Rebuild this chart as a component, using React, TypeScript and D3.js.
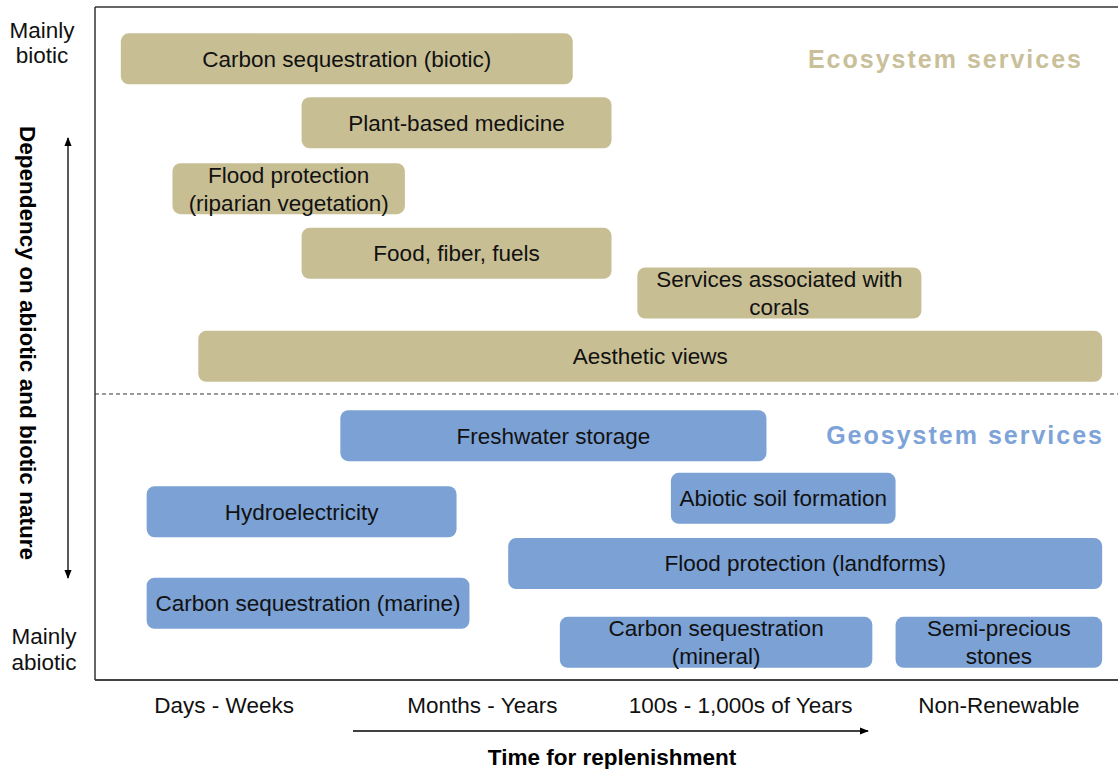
import React from "react";
import * as d3 from "d3";

// time-for-replenishment categories (x axis)
const timeCategories = ["Days - Weeks", "Months - Years", "100s - 1,000s of Years", "Non-Renewable"];

// each service: label lines, start/end on the time axis (category units), dependency level (0 abiotic .. 100 biotic)
const serviceLabels = [
  ["Carbon sequestration (biotic)"],
  ["Plant-based medicine"],
  ["Flood protection", "(riparian vegetation)"],
  ["Food, fiber, fuels"],
  ["Services associated with", "corals"],
  ["Aesthetic views"],
  ["Freshwater storage"],
  ["Hydroelectricity"],
  ["Abiotic soil formation"],
  ["Flood protection (landforms)"],
  ["Carbon sequestration (marine)"],
  ["Carbon sequestration", "(mineral)"],
  ["Semi-precious", "stones"],
];
const serviceStart = [0.1, 0.8, 0.3, 0.8, 2.1, 0.4, 0.95, 0.2, 2.23, 1.6, 0.2, 1.8, 3.1];
const serviceEnd = [1.85, 2.0, 1.2, 2.0, 3.2, 3.9, 2.6, 1.4, 3.1, 3.9, 1.45, 3.01, 3.9];
const serviceDependency = [92.3, 82.8, 73.0, 63.4, 57.5, 48.1, 36.3, 25.0, 27.0, 17.3, 11.4, 5.6, 5.6];
const serviceGroup = ["eco", "eco", "eco", "eco", "eco", "eco", "geo", "geo", "geo", "geo", "geo", "geo", "geo"];

const groupNames = ["Ecosystem services", "Geosystem services"];
const groupLabelLevel = [92.3, 36.3];
const dividerLevel = 42.5;

const W = 1118, H = 769;
const plot = { left: 95, right: 1128, top: 7, bottom: 680 };
const colors: Record<string, string> = { eco: "#C8BE94", geo: "#7BA1D5" };
const labelColors = ["#C9C09A", "#7DA3D8"];
const font = "'Liberation Sans', Arial, sans-serif";
const fs = 22.5;

export default function App() {
  const x = d3.scaleLinear().domain([0, timeCategories.length]).range([plot.left, plot.right]);
  const y = d3.scaleLinear().domain([0, 100]).range([plot.bottom, plot.top]);
  const boxH = 51;
  const lineH = 28;

  return (
    <svg width={W} height={H} style={{ position: "absolute", left: 0, top: 0, background: "#fff" }} fontFamily={font}>
      <defs>
        <marker id="ah" viewBox="0 0 10 10" refX="9" refY="5" markerWidth="7" markerHeight="7" orient="auto-start-reverse">
          <path d="M0,1 L10,5 L0,9 Z" fill="#000" />
        </marker>
      </defs>

      {/* frame */}
      <line x1={plot.left} x2={W} y1={plot.top} y2={plot.top} stroke="#333" strokeWidth={1.5} />
      <line x1={plot.left} x2={W} y1={plot.bottom} y2={plot.bottom} stroke="#444" strokeWidth={2} />
      <line x1={plot.left} x2={plot.left} y1={plot.top} y2={plot.bottom} stroke="#333" strokeWidth={1.5} />

      {/* divider */}
      <line x1={plot.left} x2={W} y1={y(dividerLevel)} y2={y(dividerLevel)} stroke="#333" strokeWidth={1} strokeDasharray="4,3" />

      {/* boxes */}
      {serviceLabels.map((lines, i) => {
        const x0 = x(serviceStart[i]), x1 = x(serviceEnd[i]);
        const cy = y(serviceDependency[i]);
        const cx = (x0 + x1) / 2;
        return (
          <g key={i}>
            <rect x={x0} y={cy - boxH / 2} width={x1 - x0} height={boxH} rx={8} fill={colors[serviceGroup[i]]} />
            {lines.map((t, j) => (
              <text key={j} x={cx} y={cy + (j - (lines.length - 1) / 2) * lineH} dy="0.35em" textAnchor="middle" fontSize={fs} fill="#111">
                {t}
              </text>
            ))}
          </g>
        );
      })}

      {/* group labels */}
      {groupNames.map((g, i) => (
        <text key={g} x={i === 0 ? 1083 : 1104} y={y(groupLabelLevel[i])} dy="0.35em" textAnchor="end" fontSize={25} letterSpacing={2} fontWeight="bold" fill={labelColors[i]}>
          {g}
        </text>
      ))}

      {/* category labels */}
      {timeCategories.map((c, i) => (
        <text key={c} x={x(i + 0.5)} y={705} dy="0.35em" textAnchor="middle" fontSize={fs} fill="#111">
          {c}
        </text>
      ))}

      {/* x arrow + title */}
      <line x1={353} x2={868} y1={731} y2={731} stroke="#000" strokeWidth={1.3} markerEnd="url(#ah)" />
      <text x={612} y={757} dy="0.35em" textAnchor="middle" fontSize={fs} fontWeight="bold" fill="#000">
        Time for replenishment
      </text>

      {/* y labels */}
      <text x={45} textAnchor="middle" fontSize={fs} fill="#111">
        <tspan x={42} y={30} dy="0.35em">Mainly</tspan>
        <tspan x={42} y={55} dy="0.35em">biotic</tspan>
      </text>
      <text x={44} textAnchor="middle" fontSize={fs} fill="#111">
        <tspan x={44} y={636} dy="0.35em">Mainly</tspan>
        <tspan x={44} y={662} dy="0.35em">abiotic</tspan>
      </text>
      <line x1={68} x2={68} y1={138} y2={578} stroke="#000" strokeWidth={1.3} markerStart="url(#ah)" markerEnd="url(#ah)" />
      <text transform="translate(28,343) rotate(90)" textAnchor="middle" dy="0.35em" fontSize={fs} fontWeight="bold" fill="#000">
        Dependency on abiotic and biotic nature
      </text>
    </svg>
  );
}
